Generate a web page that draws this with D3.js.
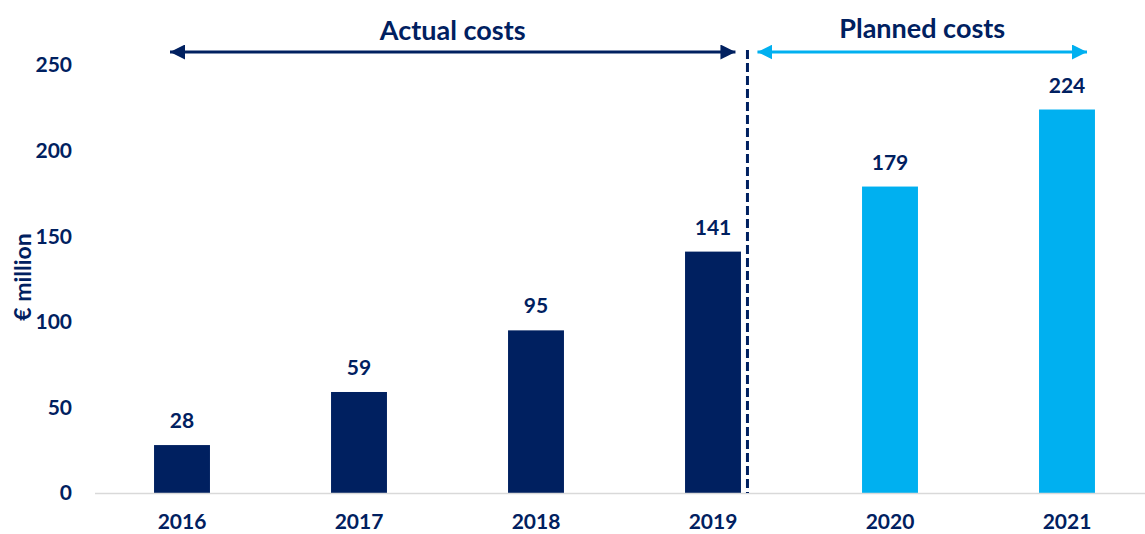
<!DOCTYPE html>
<html>
<head>
<meta charset="utf-8">
<script src="https://cdn.jsdelivr.net/npm/d3@7"></script>
<style>
  body { margin: 0; background: #fff; }
  text { font-family: Lato, "Open Sans", sans-serif; font-weight: bold; fill: #002060; }
</style>
</head>
<body>
<div class="container"></div>
<script>
// chart data
const years = ["2016", "2017", "2018", "2019", "2020", "2021"];
const costs = [28, 59, 95, 141, 179, 224];
const kinds = ["actual", "actual", "actual", "actual", "planned", "planned"];
const yTicks = [0, 50, 100, 150, 200, 250];

const navy = "#002060";
const cyan = "#00B0F0";

const width = 1145;
const height = 534;

const svg = d3.select(".container")
  .append("svg")
  .attr("width", width)
  .attr("height", height);

// scales
const x = d3.scaleBand()
  .domain(years)
  .range([93.5, 1155.5])
  .paddingInner(0.684)
  .paddingOuter(0.342);

const y = d3.scaleLinear()
  .domain([0, 250])
  .range([493, 65]);

// y tick labels
svg.append("g")
  .selectAll("text")
  .data(yTicks)
  .enter()
  .append("text")
  .attr("x", 72)
  .attr("y", d => y(d))
  .attr("dy", "0.35em")
  .attr("text-anchor", "end")
  .style("font-size", "21px")
  .text(d => d);

// y axis title
svg.append("text")
  .attr("transform", "translate(31," + 277 + ") rotate(-90)")
  .attr("text-anchor", "middle")
  .style("font-size", "23px")
  .text("€ million");

// bars
svg.append("g")
  .selectAll("rect")
  .data(years)
  .enter()
  .append("rect")
  .attr("x", d => x(d))
  .attr("y", (d, i) => y(costs[i]))
  .attr("width", x.bandwidth())
  .attr("height", (d, i) => y(0) - y(costs[i]))
  .attr("fill", (d, i) => kinds[i] === "actual" ? navy : cyan);

// baseline
svg.append("line")
  .attr("x1", 95)
  .attr("x2", 1145)
  .attr("y1", y(0) + 0.5)
  .attr("y2", y(0) + 0.5)
  .style("stroke", "#d9d9d9")
  .style("stroke-width", 1.5);

// value labels
svg.append("g")
  .selectAll("text")
  .data(years)
  .enter()
  .append("text")
  .attr("x", d => x(d) + x.bandwidth() / 2)
  .attr("y", (d, i) => y(costs[i]) - 17)
  .attr("text-anchor", "middle")
  .style("font-size", "21px")
  .text((d, i) => costs[i]);

// year labels
svg.append("g")
  .selectAll("text")
  .data(years)
  .enter()
  .append("text")
  .attr("x", d => x(d) + x.bandwidth() / 2)
  .attr("y", 529)
  .attr("text-anchor", "middle")
  .style("font-size", "21px")
  .text(d => d);

// divider between actual and planned
const divX = x("2019") + x.bandwidth() + 6.5;
svg.append("line")
  .attr("x1", divX)
  .attr("x2", divX)
  .attr("y1", 50)
  .attr("y2", y(0))
  .style("stroke", navy)
  .style("stroke-width", 3)
  .style("stroke-dasharray", "9,4");

// arrow heads
const defs = svg.append("defs");
[["headNavy", navy], ["headCyan", cyan]].forEach(([id, col]) => {
  defs.append("marker")
    .attr("id", id)
    .attr("viewBox", "0 0 10 10")
    .attr("refX", 10)
    .attr("refY", 5)
    .attr("markerWidth", 5)
    .attr("markerHeight", 5)
    .attr("markerUnits", "strokeWidth")
    .attr("orient", "auto-start-reverse")
    .append("path")
    .attr("d", "M0,0 L10,5 L0,10 Z")
    .attr("fill", col);
});

const arrowY = 52;
const actualStart = x("2016") + x.bandwidth() / 2 - 12;
const actualEnd = divX - 12;
const plannedStart = divX + 10;
const plannedEnd = x("2021") + x.bandwidth() / 2 + 20;

svg.append("line")
  .attr("x1", actualStart).attr("x2", actualEnd)
  .attr("y1", arrowY).attr("y2", arrowY)
  .style("stroke", navy).style("stroke-width", 3)
  .attr("marker-start", "url(#headNavy)")
  .attr("marker-end", "url(#headNavy)");

svg.append("line")
  .attr("x1", plannedStart).attr("x2", plannedEnd)
  .attr("y1", arrowY).attr("y2", arrowY)
  .style("stroke", cyan).style("stroke-width", 3)
  .attr("marker-start", "url(#headCyan)")
  .attr("marker-end", "url(#headCyan)");

// section titles
svg.append("text")
  .attr("x", (actualStart + actualEnd) / 2)
  .attr("y", 40)
  .attr("text-anchor", "middle")
  .style("font-size", "27px")
  .text("Actual costs");

svg.append("text")
  .attr("x", (plannedStart + plannedEnd) / 2)
  .attr("y", 38)
  .attr("text-anchor", "middle")
  .style("font-size", "27px")
  .text("Planned costs");
</script>
</body>
</html>
